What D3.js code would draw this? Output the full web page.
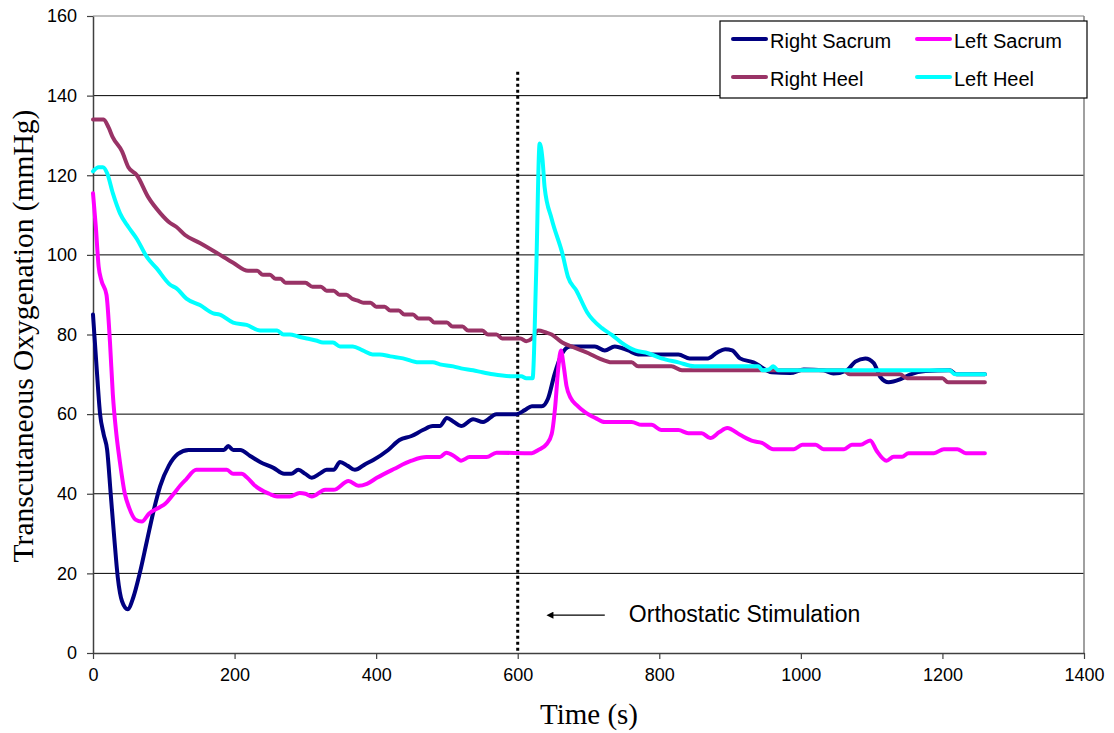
<!DOCTYPE html>
<html><head><meta charset="utf-8">
<script src="https://cdn.jsdelivr.net/npm/d3@7"></script>
<style>body{margin:0;background:#fff}</style>
</head><body>
<svg id="chart" width="1114" height="733"></svg>
<script>
// ---- data ----
const seriesNames = ["Right Sacrum", "Left Sacrum", "Right Heel", "Left Heel"];
const seriesColors = ["#000080", "#FF00FF", "#993366", "#00FFFF"];

// [time (s), mmHg]
const rightSacrum = [[0,85],[5,72],[10,60],[15,55],[20,51],[25,40],[30,29],[35,19],[41,13],[49,11],[57,14],[66,20],[76,28],[86,36],[95,42],[107,47],[120,50],[135,51],[150,51],[170,51],[185,51],[191,52],[198,51],[208,51],[222,49.5],[236,48],[255,46.5],[270,45],[280,45],[290,46],[300,45],[309,44],[320,45],[330,46],[340,46],[349,48],[360,47],[370,46],[385,47.5],[396,48.5],[417,51],[433,53.5],[450,54.5],[466,56],[480,57],[490,57],[500,59],[510,58],[520,57],[537,58.7],[551,58],[570,60],[598,60],[610,61],[620,62],[634,62],[643,64],[652,70],[662,75],[674,77],[709,77],[723,76],[737,77],[756,76],[770,75],[827,75],[843,74],[869,74],[882,75.5],[893,76.3],[903,76],[914,74],[933,73],[959,70.5],[985,70.3],[1004,71.2],[1032,71],[1046,70.2],[1065,71],[1077,73.2],[1091,74],[1103,72.8],[1112,69.4],[1124,68],[1141,68.8],[1155,70],[1176,70.8],[1210,71],[1220,70],[1260,70]];

const leftSacrum = [[0,115.5],[4,107],[8,97],[12,93.5],[19,90],[24,78],[28,65],[33,55],[38,48],[45,40],[51,36.5],[60,33.5],[69,33],[79,35],[93,36.5],[102,37.5],[114,40],[123,42],[131,43.5],[146,46],[189,46],[198,45],[210,45],[218,44],[229,42],[249,40],[260,39.3],[278,39.3],[292,40.2],[300,40],[309,39.3],[328,41],[340,41],[361,43.2],[375,42],[387,42.5],[401,44],[425,46.2],[450,48.3],[471,49.2],[490,49.2],[499,50.3],[510,49.5],[520,48.3],[532,49.2],[556,49.2],[570,50.3],[620,50.2],[629,51],[641,52.5],[648,55],[653,62],[657,71],[661,76],[665,72],[669,67],[675,64],[683,62.3],[695,60.5],[710,59],[723,58],[761,58],[775,57.3],[789,57.3],[803,56],[827,56],[841,55.2],[860,55.2],[872,54],[885,55.5],[896,56.5],[914,54.8],[933,53.2],[945,52.8],[961,51.2],[990,51.2],[1002,52.3],[1021,52.3],[1032,51.2],[1061,51.2],[1072,52.3],[1084,52.3],[1098,53.4],[1107,50.8],[1121,48.3],[1131,49.3],[1143,49.3],[1152,50.2],[1188,50.2],[1202,51.2],[1221,51.2],[1233,50.2],[1260,50.2]];

const rightHeel = [[0,134],[15,134],[22,132],[28,129.5],[41,126],[50,122],[62,120],[78,114.5],[95,110.5],[109,108],[118,107],[130,105],[151,103],[175,100.5],[198,98],[219,96],[232,96],[240,95],[250,95],[258,94],[265,94],[272,93],[300,93],[310,92],[322,92],[330,91],[340,91],[348,90],[358,90],[366,89],[374,88.5],[382,88],[392,88],[400,87],[412,87],[420,86],[432,86],[440,85],[452,85],[460,84],[475,84],[482,83],[500,83],[508,82],[522,82],[530,81],[550,81],[558,80],[570,80],[578,79],[604,79],[612,78.3],[620,79],[629,81],[640,80.5],[648,80],[663,78],[676,77],[700,75.3],[715,74],[733,73],[761,73],[770,72],[817,72],[832,71],[1060,71],[1069,70],[1140,70],[1150,69],[1200,69],[1208,68],[1260,68]];

const leftHeel = [[0,121],[8,122],[14,122],[20,120.5],[28,115.5],[38,110.5],[50,107],[62,104],[76,99.5],[90,96.6],[109,92.5],[118,91.6],[132,89],[151,87.4],[170,85.3],[179,85],[198,83],[217,82.4],[236,81],[260,81],[269,80],[278,80],[290,79.5],[302,79],[315,78.5],[325,78],[339,78],[349,77],[367,77],[381,76],[395,75],[405,75],[420,74.5],[438,74],[460,73],[480,73],[490,72.5],[509,72],[520,71.5],[537,71],[550,70.5],[565,70],[593,69.5],[605,69.5],[612,69],[621,69],[626,95],[631,128],[635,124],[638,117],[648,109],[663,100.4],[671,94.5],[683,91],[698,85.6],[719,81.6],[733,79.9],[747,77.9],[766,76],[784,75.3],[803,74],[827,73],[850,72],[940,72],[946,71],[955,71.2],[961,72],[968,71],[1210,71],[1218,70],[1260,70]];

const seriesData = [rightSacrum, leftSacrum, rightHeel, leftHeel];

const xTicks = [0, 200, 400, 600, 800, 1000, 1200, 1400];
const yTicks = [0, 20, 40, 60, 80, 100, 120, 140, 160];
const xTitle = "Time (s)";
const yTitle = "Transcutaneous Oxygenation (mmHg)";

// annotation (data coordinates)
const stimulationTime = 600;
const stimulationTop = 146;
const arrowStartTime = 723, arrowEndTime = 641, arrowLevel = 9.5;
const annotationText = "Orthostatic Stimulation";
const annotationTime = 757, annotationLevel = 7.8;

// ---- layout ----
const svg = d3.select("#chart");
const L = 93, R = 1084, T = 16, B = 653;
const x = d3.scaleLinear().domain([0, 1400]).range([L, R]);
const y = d3.scaleLinear().domain([0, 160]).range([B, T]);

// gridlines
svg.append("g").selectAll("line").data(yTicks.filter(d => d > 0)).join("line")
  .attr("x1", L).attr("x2", R)
  .attr("y1", d => y(d)).attr("y2", d => y(d))
  .attr("stroke", d => d === 160 ? "#808080" : "#000")
  .attr("stroke-width", 1);
// right border
svg.append("line").attr("x1", R).attr("x2", R).attr("y1", T).attr("y2", B)
  .attr("stroke", "#808080").attr("stroke-width", 1.5);

// axes
const yAxis = svg.append("g").attr("transform", `translate(${L},0)`)
  .call(d3.axisLeft(y).tickValues(yTicks).tickSize(6).tickPadding(10).tickSizeOuter(0));
const xAxis = svg.append("g").attr("transform", `translate(0,${B})`)
  .call(d3.axisBottom(x).tickValues(xTicks).tickFormat(d3.format("d"))
    .tickSize(6).tickPadding(9).tickSizeOuter(0));
[yAxis, xAxis].forEach(g => {
  g.select(".domain").attr("stroke", "#404040").attr("stroke-width", 1.5);
  g.selectAll(".tick line").attr("stroke", "#404040").attr("stroke-width", 1.2);
  g.selectAll("text").attr("font-family", "Liberation Sans, Arial, sans-serif")
    .attr("font-size", 18).attr("fill", "#000");
});

// stimulation marker
svg.append("line")
  .attr("x1", x(stimulationTime)).attr("x2", x(stimulationTime))
  .attr("y1", y(stimulationTop)).attr("y2", y(0))
  .attr("stroke", "#000").attr("stroke-width", 3).attr("stroke-dasharray", "3,3");

// series lines
const line = d3.line().x(d => x(d[0])).y(d => y(d[1])).curve(d3.curveMonotoneX);
svg.append("g").selectAll("path").data(seriesData).join("path")
  .attr("d", line)
  .attr("fill", "none")
  .attr("stroke", (d, i) => seriesColors[i])
  .attr("stroke-width", 4)
  .attr("stroke-linejoin", "round")
  .attr("stroke-linecap", "round");

// annotation arrow
svg.append("defs").append("marker").attr("id", "arrow")
  .attr("viewBox", "0 0 10 10").attr("refX", 1).attr("refY", 5)
  .attr("markerWidth", 9).attr("markerHeight", 7).attr("orient", "auto-start-reverse")
  .attr("markerUnits", "userSpaceOnUse")
  .append("path").attr("d", "M0,0 L10,5 L0,10 Z").attr("fill", "#000");
svg.append("line")
  .attr("x1", x(arrowStartTime)).attr("x2", x(arrowEndTime) + 6)
  .attr("y1", y(arrowLevel)).attr("y2", y(arrowLevel))
  .attr("stroke", "#000").attr("stroke-width", 1.3)
  .attr("marker-end", "url(#arrow)");
svg.append("text").attr("x", x(annotationTime)).attr("y", y(annotationLevel))
  .attr("font-family", "Liberation Sans, Arial, sans-serif").attr("font-size", 23)
  .text(annotationText);

// axis titles
svg.append("text").attr("x", 589).attr("y", 724).attr("text-anchor", "middle")
  .attr("font-family", "Liberation Serif, Times New Roman, serif").attr("font-size", 29)
  .text(xTitle);
svg.append("text").attr("transform", `translate(33,336) rotate(-90)`)
  .attr("text-anchor", "middle")
  .attr("font-family", "Liberation Serif, Times New Roman, serif").attr("font-size", 29.5)
  .text(yTitle);

// legend
const lg = svg.append("g");
lg.append("rect").attr("x", 720).attr("y", 21).attr("width", 367).attr("height", 77)
  .attr("fill", "#fff").attr("stroke", "#000").attr("stroke-width", 1.2);
const legendPos = [[733, 39], [917, 39], [733, 77], [917, 77]];
seriesNames.forEach((name, i) => {
  const [lx, ly] = legendPos[i];
  lg.append("line").attr("x1", lx).attr("x2", lx + 33).attr("y1", ly).attr("y2", ly)
    .attr("stroke", seriesColors[i]).attr("stroke-width", 4).attr("stroke-linecap", "round");
  lg.append("text").attr("x", lx + 37).attr("y", ly + 8.5)
    .attr("font-family", "Liberation Sans, Arial, sans-serif").attr("font-size", 20)
    .text(name);
});
</script>
</body></html>
